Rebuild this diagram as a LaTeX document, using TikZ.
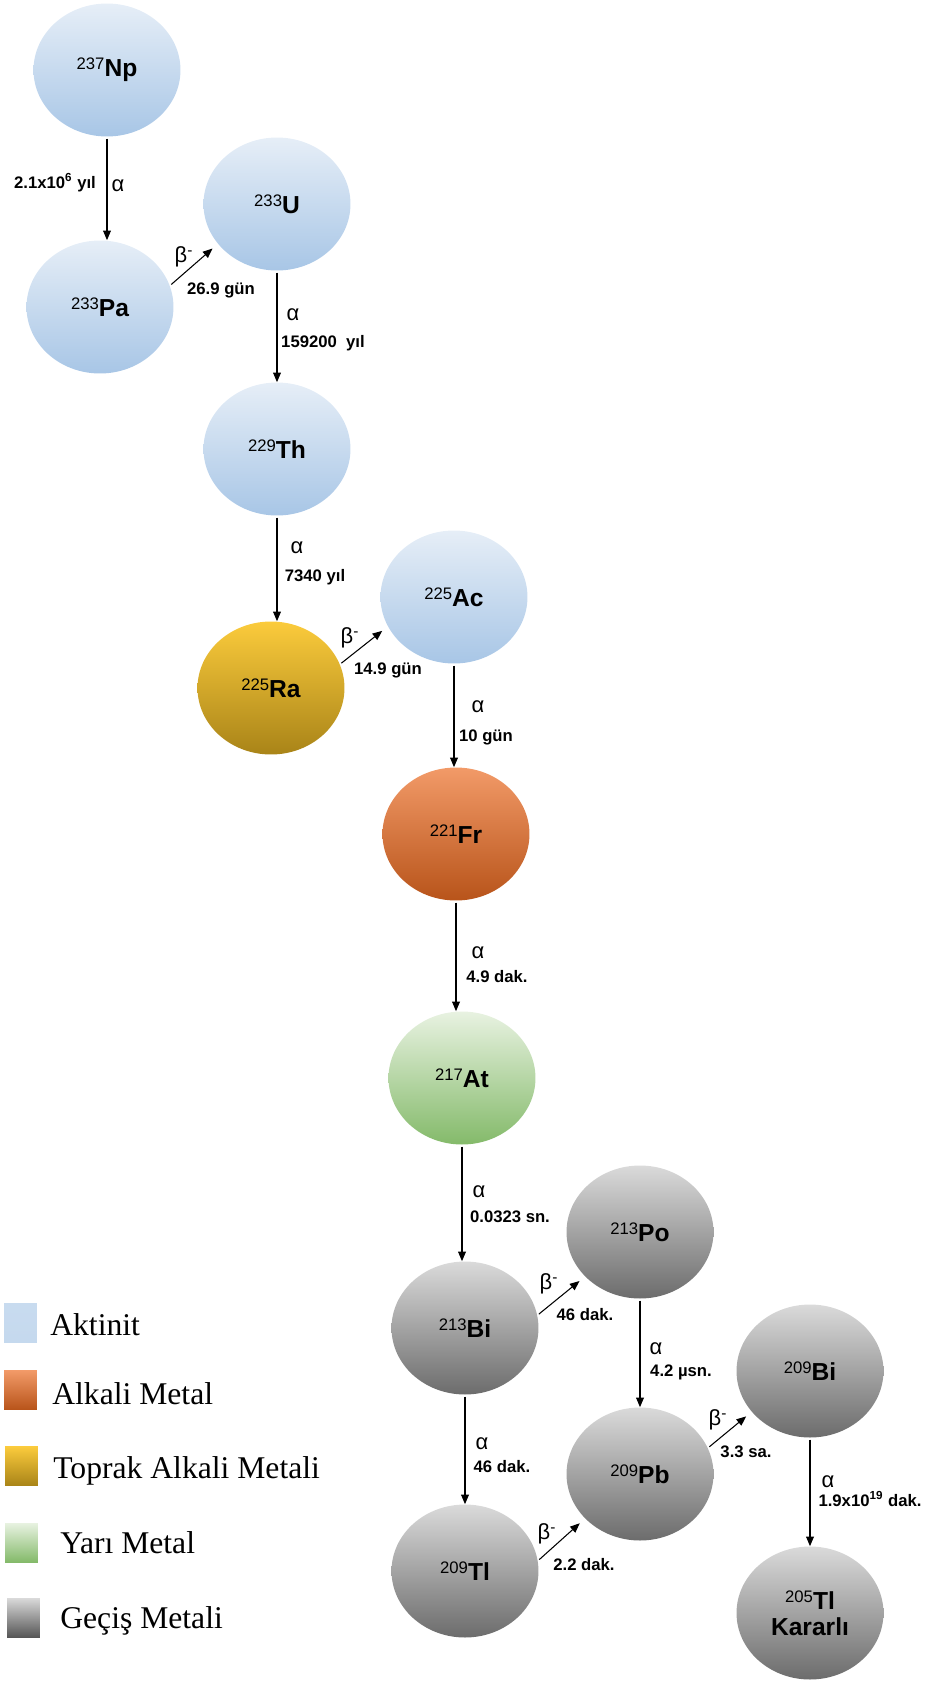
\documentclass[tikz,border=0pt]{standalone}
\usepackage{fontspec}
\setmainfont{Liberation Sans}
\newfontfamily\legendfont{Liberation Serif}
\usetikzlibrary{shapes.geometric,arrows.meta}

\definecolor{aktTop}{HTML}{E6EEF7}
\definecolor{aktMid}{HTML}{C8DBEF}
\definecolor{aktBot}{HTML}{A8C6E6}
\definecolor{alkTop}{HTML}{F29A68}
\definecolor{alkMid}{HTML}{E5783A}
\definecolor{alkBot}{HTML}{B8541A}
\definecolor{tprTop}{HTML}{FBCB3C}
\definecolor{tprMid}{HTML}{EFB21A}
\definecolor{tprBot}{HTML}{A98418}
\definecolor{yarTop}{HTML}{E8F2E1}
\definecolor{yarMid}{HTML}{BADAA9}
\definecolor{yarBot}{HTML}{84BA6A}
\definecolor{gecTop}{HTML}{DADADA}
\definecolor{gecMid}{HTML}{ABABAB}
\definecolor{gecBot}{HTML}{6C6C6C}

\newcommand{\iso}[2]{{\fontsize{9.5}{10}\selectfont\raisebox{4pt}{#1}}{\fontsize{14}{15}\selectfont\bfseries #2}}

\tikzset{
  nuc/.style={ellipse, minimum width=2.94cm, minimum height=2.66cm, inner sep=0pt},
  akt/.style={nuc, top color=aktTop, middle color=aktMid, bottom color=aktBot},
  alk/.style={nuc, top color=alkTop, middle color=alkMid, bottom color=alkBot},
  tpr/.style={nuc, top color=tprTop, middle color=tprMid, bottom color=tprBot},
  yar/.style={nuc, top color=yarTop, middle color=yarMid, bottom color=yarBot},
  gec/.style={nuc, top color=gecTop, middle color=gecMid, bottom color=gecBot},
  decay/.style={-{Triangle[length=5.5pt,width=4.5pt]}, line width=0.6pt, shorten <=1pt},
  beta/.style={decay, shorten >=4pt},
  tlabel/.style={font=\fontsize{9.5}{11}\selectfont\bfseries, inner sep=0pt},
  glabel/.style={font=\fontsize{12.5}{14}\selectfont, inner sep=0pt},
  legbox/.style={minimum width=0.66cm, minimum height=0.78cm, inner sep=0pt},
  legtext/.style={anchor=base west, inner sep=0pt, font=\legendfont\fontsize{18}{20}\selectfont}
}

\begin{document}
\begin{tikzpicture}[x=0.02cm, y=-0.02cm]
	\useasboundingbox (0,0) rectangle (926,1690);
	
	% nuclides
	\node[akt] (np) at (107,70) {\iso{237}{Np}};
	\node[akt] (pa) at (100,307) {\iso{233}{Pa}};
	\node[akt] (u) at (277,204) {\iso{233}{U}};
	\node[akt] (th) at (277,449) {\iso{229}{Th}};
	\node[tpr] (ra) at (271,688) {\iso{225}{Ra}};
	\node[akt] (ac) at (454,597) {\iso{225}{Ac}};
	\node[alk] (fr) at (456,834) {\iso{221}{Fr}};
	\node[yar] (at) at (462,1078) {\iso{217}{At}};
	\node[gec] (bia) at (465,1328) {\iso{213}{Bi}};
	\node[gec] (po) at (640,1232) {\iso{213}{Po}};
	\node[gec] (tla) at (465,1571) {\iso{209}{Tl}};
	\node[gec] (pb) at (640,1474) {\iso{209}{Pb}};
	\node[gec] (bib) at (810,1371) {\iso{209}{Bi}};
	\node[gec, align=center] (tlb) at (810,1613) {\iso{205}{Tl}\\[3pt]{\fontsize{14}{15}\selectfont\bfseries Kararlı}};
	
	% decays
	\draw[decay] (np.south) -- (np.south |- pa.north);
	\draw[beta] (pa.17) -- (u.214);
	\draw[decay] (u.south) -- (u.south |- th.north);
	\draw[decay] (th.south) -- (th.south |- ra.north);
	\draw[beta] (ra.19) -- (ac.204);
	\draw[decay] (ac.south) -- (ac.south |- fr.north);
	\draw[decay] (fr.south) -- (fr.south |- at.north);
	\draw[decay] (at.south) -- (at.south |- bia.north);
	\draw[beta] (bia.10) -- (po.219);
	\draw[decay] (po.south) -- (po.south |- pb.north);
	\draw[decay] (bia.south) -- (bia.south |- tla.north);
	\draw[beta] (pb.21) -- (bib.215);
	\draw[beta] (tla.8) -- (pb.219);
	\draw[decay] (bib.south) -- (bib.south |- tlb.north);
	
	% labels
	\node[tlabel] (l1) at (55,183) {2.1x10\textsuperscript{6} yıl};
	\node[glabel] (g1) at (118,186) {α};
	\node[glabel] (g2) at (184,257) {β\textsuperscript{-}};
	\node[tlabel] (l2) at (221,290) {26.9 gün};
	\node[glabel] (g3) at (293,315) {α};
	\node[tlabel] (l3) at (323,343) {159200~~yıl};
	\node[glabel] (g4) at (297,548) {α};
	\node[tlabel] (l4) at (315,577) {7340 yıl};
	\node[glabel] (g5) at (350,638) {β\textsuperscript{-}};
	\node[tlabel] (l5) at (388,670) {14.9 gün};
	\node[glabel] (g6) at (478,707) {α};
	\node[tlabel] (l6) at (486,737) {10 gün};
	\node[glabel] (g7) at (478,953) {α};
	\node[tlabel] (l7) at (497,977) {4.9 dak.};
	\node[glabel] (g8) at (479,1192) {α};
	\node[tlabel] (l8) at (510,1217) {0.0323 sn.};
	\node[glabel] (g9) at (549,1284) {β\textsuperscript{-}};
	\node[tlabel] (l9) at (585,1315) {46 dak.};
	\node[glabel] (g10) at (656,1349) {α};
	\node[tlabel] (l10) at (681,1372) {4.2 µsn.};
	\node[glabel] (g11) at (482,1444) {α};
	\node[tlabel] (l11) at (502,1467) {46 dak.};
	\node[glabel] (g12) at (718,1420) {β\textsuperscript{-}};
	\node[tlabel] (l12) at (746,1452) {3.3 sa.};
	\node[glabel] (g13) at (547,1534) {β\textsuperscript{-}};
	\node[tlabel] (l13) at (584,1565) {2.2 dak.};
	\node[glabel] (g14) at (828,1482) {α};
	\node[tlabel] (l14) at (870,1499) {1.9x10\textsuperscript{19} dak.};
	
	% legend
	\node[legbox, top color=aktMid, bottom color=aktMid!90!aktBot] (kakt) at (20.5,1322.5) {};
	\node[legbox, top color=alkTop, bottom color=alkBot] (kalk) at (20.5,1390) {};
	\node[legbox, top color=tprTop, bottom color=tprBot] (ktpr) at (21.5,1466) {};
	\node[legbox, top color=yarTop, bottom color=yarBot] (kyar) at (21.5,1542.5) {};
	\node[legbox, top color=gecTop, bottom color=gecBot!80!black] (kgec) at (23.5,1617.5) {};
	\node[legtext] (takt) at (50,1335) {Aktinit};
	\node[legtext] (talk) at (52,1404) {Alkali Metal};
	\node[legtext] (ttpr) at (53,1478) {Toprak Alkali Metali};
	\node[legtext] (tyar) at (60,1553) {Yarı Metal};
	\node[legtext] (tgec) at (60,1628) {Geçiş Metali};
	
\end{tikzpicture}
\end{document}
